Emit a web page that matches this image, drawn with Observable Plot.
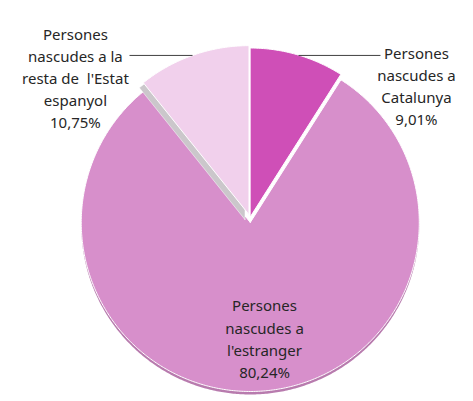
<!DOCTYPE html>
<html>
<head>
<meta charset="utf-8">
<script src="https://cdn.jsdelivr.net/npm/d3@7"></script>
<script src="https://cdn.jsdelivr.net/npm/@observablehq/plot@0.6"></script>
<style>
  html, body { margin: 0; padding: 0; background: #ffffff; }
  #chart { width: 473px; height: 401px; }
</style>
</head>
<body>
<div id="chart"></div>
<script>
// ---- data ----
const categories = [
  "Persones nascudes a Catalunya",
  "Persones nascudes a l'estranger",
  "Persones nascudes a la resta de l'Estat espanyol"
];
const values = [9.01, 80.24, 10.75];
const valueLabels = ["9,01%", "80,24%", "10,75%"];
const labelLines = [
  ["Persones", "nascudes a", "Catalunya"],
  ["Persones", "nascudes a", "l'estranger"],
  ["Persones", "nascudes a la", "resta de  l'Estat", "espanyol"]
];

// ---- styles / layout ----
const colors = ["#cf4fb7", "#d78fcb", "#f1d0ec"];
const R = 169;                      // pixel radius (1 unit)
const px = v => v / R;              // pixels -> radius units
const explode = [px(0.5), px(5), px(3)];
const labelPos = [ [0.985, 0.784], [0.086, -0.710], [-1.033, 0.834] ];
const leaders = [ {x1: 0.287, x2: 0.772, y: 0.959}, null, {x1: -0.713, x2: -0.340, y: 0.959} ];

const arcs = d3.pie().sort(null).value(d => d)(values);

function slicePolygon(a, i, dx = 0, dy = 0) {
  const m = (a.startAngle + a.endAngle) / 2;
  const cx = explode[i] * Math.sin(m) + dx;
  const cy = explode[i] * Math.cos(m) + dy;
  const pts = [{x: cx, y: cy, k: i}];
  const n = Math.max(8, Math.ceil((a.endAngle - a.startAngle) / 0.01));
  for (let j = 0; j <= n; j++) {
    const t = a.startAngle + (a.endAngle - a.startAngle) * j / n;
    pts.push({x: cx + Math.sin(t), y: cy + Math.cos(t), k: i});
  }
  pts.push({x: cx, y: cy, k: i});
  return pts;
}

const slicePolys = arcs.map((a, i) => slicePolygon(a, i));
const shadowEstr = slicePolygon(arcs[1], 1, 0, -px(3));
const sideResta = slicePolygon(arcs[2], 2, -px(4), -px(5));

const labels = categories.map((c, i) => ({
  x: labelPos[i][0], y: labelPos[i][1],
  text: labelLines[i].join("\n") + "\n" + valueLabels[i]
}));
const leaderData = leaders.filter(d => d);

const sliceMark = i => Plot.line(slicePolys[i], {x: "x", y: "y", fill: colors[i], stroke: "white", strokeWidth: 1});

const chart = Plot.plot({
  width: 473,
  height: 401,
  margin: 0,
  style: {background: "#ffffff", fontFamily: "'Noto Sans', sans-serif"},
  x: {domain: [px(0 - 249.5), px(473 - 249.5)], axis: null},
  y: {domain: [px(217 - 401), px(217)], axis: null},
  marks: [
    Plot.line(shadowEstr, {x: "x", y: "y", fill: "#b87bae", stroke: "none"}),
    sliceMark(1),
    Plot.line(sideResta, {x: "x", y: "y", fill: "#cbc7cb", stroke: "white", strokeWidth: 0.5}),
    sliceMark(2),
    sliceMark(0),
    Plot.link(leaderData, {x1: "x1", x2: "x2", y1: "y", y2: "y", stroke: "#404040", strokeWidth: 1}),
    Plot.text(labels, {x: "x", y: "y", text: "text", fontSize: 15, lineHeight: 1.47, lineAnchor: "middle", fill: "#262626"})
  ]
});
document.getElementById("chart").appendChild(chart);
</script>
</body>
</html>
